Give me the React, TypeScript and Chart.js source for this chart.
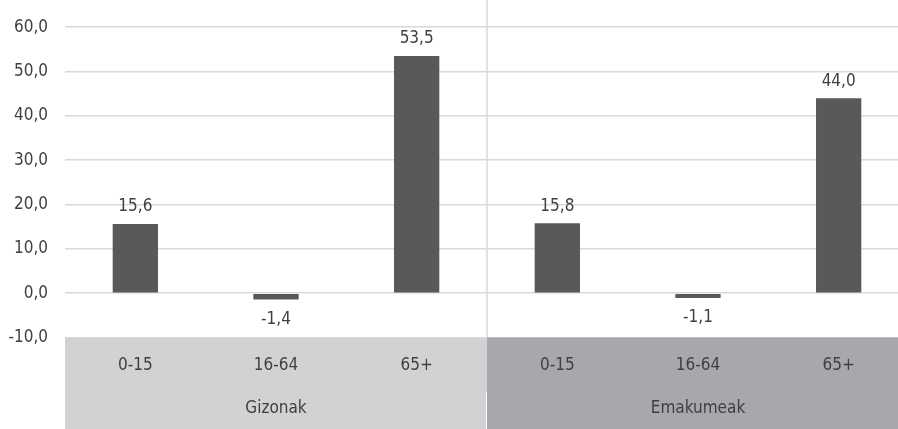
import React, { useEffect, useRef } from "react";
import { Chart, registerables } from "chart.js";

Chart.register(...registerables);

const categories = ["0-15", "16-64", "65+", "0-15", "16-64", "65+"];
const groups = ["Gizonak", "Emakumeak"];
const values = [15.6, -1.4, 53.5, 15.8, -1.1, 44.0];
const yMin = -10;
const yMax = 60;
const yStep = 10;

const FONT = "'DejaVu Sans Condensed', 'DejaVu Sans', sans-serif";
const TEXT = "#3f3f3f";
const GRID = "#d9d9d9";
const BAR = "#58595b";
const BAND_LEFT = "#d1d2d4";
const BAND_RIGHT = "#a7a8ab";

const fmt = (v: number) => v.toFixed(1).replace(".", ",");

const overlay = {
  id: "overlay",
  afterDraw(chart: any) {
    const { ctx, chartArea } = chart;
    const xs = chart.scales.x;
    const W = chart.width;
    const H = chart.height;
    const n = categories.length;
    const half = n / 2;
    const divX = (xs.getPixelForTick(half - 1) + xs.getPixelForTick(half)) / 2;
    const bandTop = chartArea.bottom;
    const row1Bottom = bandTop + 55;
    ctx.save();
    // bands
    ctx.fillStyle = BAND_LEFT;
    ctx.fillRect(chartArea.left, bandTop, divX - chartArea.left, H - bandTop);
    ctx.fillStyle = BAND_RIGHT;
    ctx.fillRect(divX, bandTop, W - divX, H - bandTop);
    ctx.fillStyle = "#ffffff";
    ctx.fillRect(Math.round(divX) - 1, row1Bottom, 1, H - row1Bottom);
    // divider
    ctx.strokeStyle = GRID;
    ctx.lineWidth = 1.5;
    ctx.beginPath();
    ctx.moveTo(divX, 0);
    ctx.lineTo(divX, bandTop);
    ctx.stroke();
    // category labels
    ctx.fillStyle = TEXT;
    ctx.font = `17px ${FONT}`;
    ctx.textAlign = "center";
    ctx.textBaseline = "middle";
    categories.forEach((c, i) => {
      ctx.fillText(c, xs.getPixelForTick(i), bandTop + 28);
    });
    // group labels
    groups.forEach((g, gi) => {
      const a = xs.getPixelForTick(gi * half);
      const b = xs.getPixelForTick(gi * half + half - 1);
      ctx.fillText(g, (a + b) / 2, row1Bottom + 16);
    });
    // data labels
    const meta = chart.getDatasetMeta(0);
    meta.data.forEach((el: any, i: number) => {
      const v = values[i];
      const y = v >= 0 ? el.y - 17 : el.y + 20;
      ctx.fillText(fmt(v), el.x, y);
    });
    ctx.restore();
  },
};

export default function App() {
  const ref = useRef<HTMLCanvasElement | null>(null);
  useEffect(() => {
    if (!ref.current) return;
    Chart.defaults.font.family = FONT;
    const chart = new Chart(ref.current, {
      type: "bar",
      data: {
        labels: categories,
        datasets: [
          {
            data: values,
            backgroundColor: BAR,
            categoryPercentage: 1,
            barPercentage: 0.322,
          },
        ],
      },
      options: {
        responsive: false,
        animation: false,
        devicePixelRatio: 1,
        layout: { padding: { top: 19, bottom: 91.5, left: 0, right: 0 } },
        plugins: {
          legend: { display: false },
          tooltip: { enabled: false },
        },
        scales: {
          x: { display: false },
          y: {
            min: yMin,
            max: yMax,
            ticks: {
              stepSize: yStep,
              padding: 17,
              color: TEXT,
              font: { size: 17, family: FONT },
              callback: (v: any) => fmt(Number(v)),
            },
            grid: { color: GRID, lineWidth: 1.5, drawTicks: false },
            border: { display: false },
            afterFit: (s: any) => {
              s.width = 65;
            },
          },
        },
      },
      plugins: [overlay],
    });
    return () => chart.destroy();
  }, []);
  return (
    <div
      style={{
        position: "absolute",
        left: 0,
        top: 0,
        width: 898,
        height: 429,
        overflow: "hidden",
        background: "#fff",
      }}
    >
      <canvas ref={ref} width={909} height={429} style={{ display: "block" }} />
    </div>
  );
}
